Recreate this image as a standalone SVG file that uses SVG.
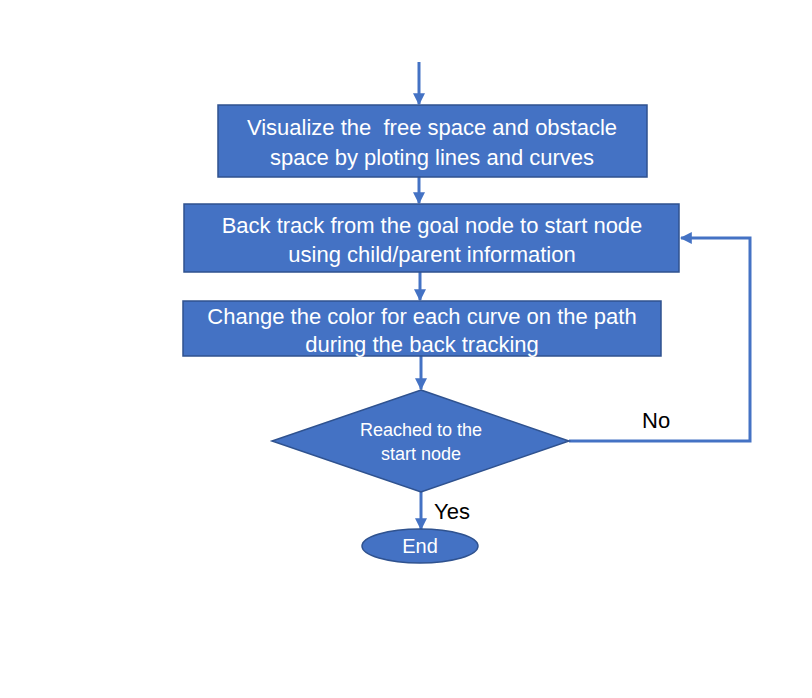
<svg xmlns="http://www.w3.org/2000/svg" width="812" height="698" viewBox="0 0 812 698">
<style>
.n{fill:#4472C4;stroke:#2F528F;stroke-width:1.5}
.t{fill:#fff;font-family:"Liberation Sans",Arial,sans-serif;font-size:22px;text-anchor:middle;white-space:pre}
.ts{fill:#fff;font-family:"Liberation Sans",Arial,sans-serif;font-size:18px;text-anchor:middle}
.l{fill:#000;font-family:"Liberation Sans",Arial,sans-serif;font-size:22px}
.c{fill:none;stroke:#4472C4;stroke-width:3}
</style>
<defs>
<marker id="a" viewBox="0 0 10 10" refX="9" refY="5" markerWidth="4" markerHeight="4" orient="auto" markerUnits="strokeWidth">
<path d="M0,0 L10,5 L0,10 z" fill="#4472C4"/>
</marker>
</defs>
<rect width="812" height="698" fill="#fff"/>
<g id="connectors">
<line class="c" x1="419" y1="62" x2="419" y2="104" marker-end="url(#a)"/>
<line class="c" x1="419" y1="177" x2="419" y2="203" marker-end="url(#a)"/>
<line class="c" x1="420" y1="272" x2="420" y2="300" marker-end="url(#a)"/>
<line class="c" x1="421" y1="356" x2="421" y2="389" marker-end="url(#a)"/>
<line class="c" x1="421" y1="492" x2="421" y2="529" marker-end="url(#a)"/>
<polyline class="c" points="569,441 750,441 750,238 681,238" marker-end="url(#a)"/>
<text class="l" x="642" y="428">No</text>
<text class="l" x="434" y="519">Yes</text>
</g>
<g id="n1">
<rect class="n" x="218" y="105" width="429" height="72"/>
<text class="t" x="432" y="135" xml:space="preserve">Visualize the  free space and obstacle</text>
<text class="t" x="432" y="165">space by ploting lines and curves</text>
</g>
<g id="n2">
<rect class="n" x="184" y="204" width="495" height="68"/>
<text class="t" x="432" y="233">Back track from the goal node to start node</text>
<text class="t" x="432" y="262">using child/parent information</text>
</g>
<g id="n3">
<rect class="n" x="183" y="301" width="478" height="55"/>
<text class="t" x="422" y="324">Change the color for each curve on the path</text>
<text class="t" x="422" y="352">during the back tracking</text>
</g>
<g id="n4">
<polygon class="n" points="421,390 569,441 421,492 272,441"/>
<text class="ts" x="421" y="436">Reached to the</text>
<text class="ts" x="421" y="460">start node</text>
</g>
<g id="n5">
<ellipse class="n" cx="420" cy="546" rx="58" ry="17"/>
<text class="t" x="420" y="553" style="font-size:20px">End</text>
</g>
</svg>
